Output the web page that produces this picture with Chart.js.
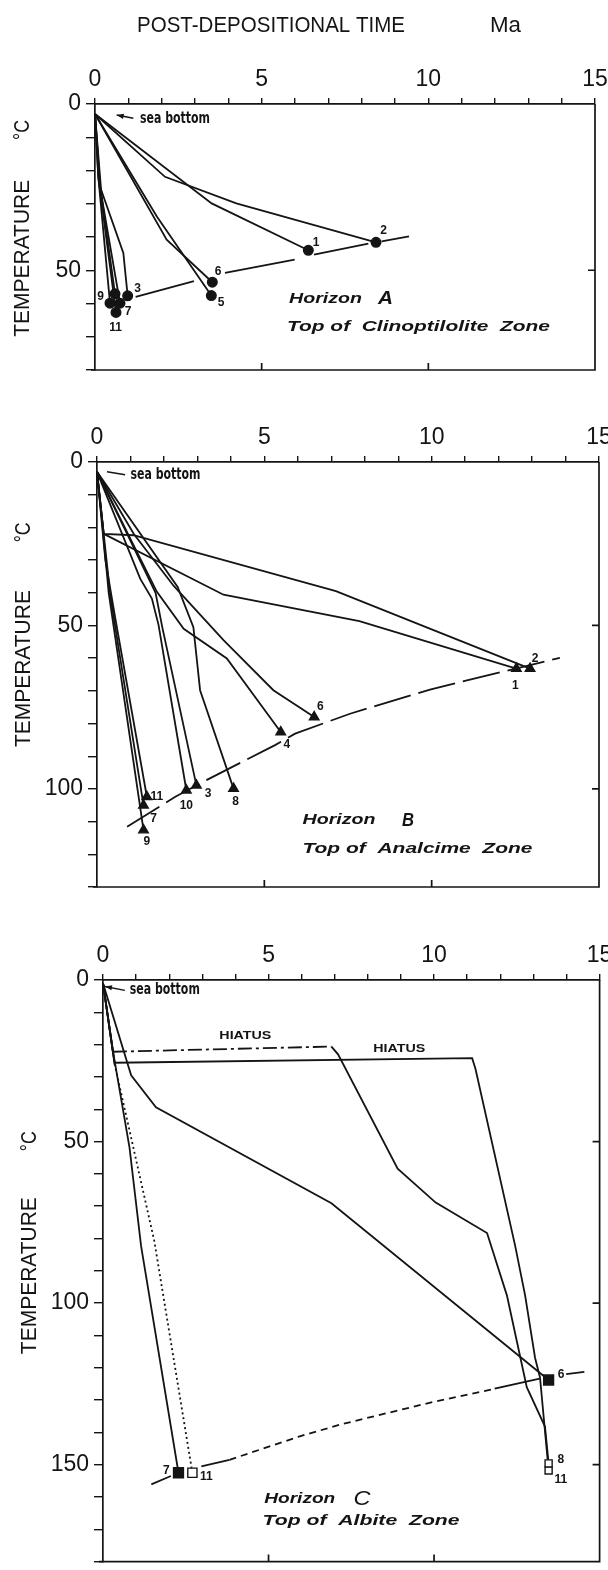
<!DOCTYPE html>
<html>
<head>
<meta charset="utf-8">
<script src="https://cdn.jsdelivr.net/npm/chart.js@4.4.1/dist/chart.umd.min.js"></script>
<style>
  body { margin: 0; background: #fff; width: 608px; height: 1570px; position: relative; overflow: hidden; }
  canvas { position: absolute; left: 0; }
</style>
</head>
<body>
<canvas id="chartA" width="608" height="380" style="top:0"></canvas>
<canvas id="chartB" width="608" height="495" style="top:400px"></canvas>
<canvas id="chartC" width="608" height="670" style="top:900px"></canvas>
<script>
// ---- data: [time Ma, temperature °C] along each well's burial path ----
// Horizon A (top of clinoptilolite zone)
const A_well1 = [[0,3],[3.5,29.9],[6.4,44]];
const A_well2 = [[0,3],[2.1,21.9],[4.24,29.9],[8.43,41.6]];
const A_well3 = [[0,3],[0.15,24.8],[0.85,44.8],[0.98,57.7]];
const A_well5 = [[0,3],[1.86,33.9],[3.49,57.6]];
const A_well6 = [[0,3],[2.15,40.8],[3.52,53.6]];
const A_well7 = [[0,3],[0.15,25],[0.75,59.9]];
const A_well9 = [[0,3],[0.1,22],[0.45,59.9]];
const A_well11 = [[0,3],[0.1,22],[0.63,62.7]];
const A_wellX = [[0,3],[0.2,28],[0.6,57.1]];
const A_horizon = [[1.22,58],[2.97,53.3],[3.9,50.8],[5.99,46.8],[6.57,45.3],[8.2,42],[8.6,41.3],[9.42,39.8]];

// Horizon B (top of analcime zone)
const B_well1 = [[0,3],[0.2,22],[3.78,40.6],[7.84,48.7],[12.53,63.2]];
const B_well2 = [[0,3],[0.2,22],[1.09,22.4],[7.14,39.5],[10.0,51.2],[12.94,63.2]];
const B_well3 = [[0,3],[0.9,22],[1.75,40],[1.95,50.5],[2.97,98.9]];
const B_well4 = [[0,3],[1.79,39.7],[2.59,51],[3.88,60.1],[5.49,82.6]];
const B_well6 = [[0,3],[1.1,22],[2.3,38],[3.78,54.5],[5.27,69.8],[6.49,78]];
const B_well7 = [[0,3],[0.2,22],[0.4,41],[1.39,105]];
const B_well8 = [[0,3],[2.41,38.2],[2.88,50.5],[3.08,69.8],[4.08,99.9]];
const B_well9 = [[0,3],[0.15,18],[0.35,40],[1.39,112.6]];
const B_well10 = [[0,3],[1.29,35.7],[1.64,41.8],[1.84,49.9],[2.67,100.4]];
const B_well11 = [[0,3],[0.25,30],[0.55,48],[1.49,102.4]];
const B_horizon = [[0.9,111.6],[2.34,102.4],[3.27,97.3],[5.32,86.6],[5.92,83.1],[7.56,77],[9.95,69.6],[12.18,64],[13.83,59.9]];

// Horizon C (top of albite zone)
const C_well6 = [[0,1],[0.85,29.5],[1.6,39.4],[6.9,69.1],[13.46,123.8]];
const C_well7 = [[0,1],[0.3,22],[0.8,51.8],[1.15,82.3],[2.28,152.5]];
const C_well11a = [[0,1],[0.35,26],[1.55,80.8],[2.7,152.5]];
const C_well8 = [[0,1],[0.3,22.2],[6.9,20.6],[7.1,23],[8.9,58.4],[10.05,68.9],[11.6,78.3],[12.2,97.6],[12.8,126],[13.35,138.2],[13.46,149.6]];
const C_well11b = [[0,1],[0.35,25.6],[11.15,24.2],[11.25,27.5],[12.45,82.3],[12.75,97.6],[13.05,116.9],[13.2,123],[13.46,151.8]];
const C_horizon = [[1.46,156.1],[2.05,153.5],[2.97,150.5],[3.82,148.5],[5.92,141.3],[7.2,137.5],[9.8,131],[11.83,126.5],[13.19,123.4],[13.99,122],[14.54,121.3]];

// tick labels
const timeLabels = [0, 5, 10, 15];
const tempLabels = [0, 50, 100, 150];

// well numbers: [text, time, temp]
const A_labels = [['1',6.63,41.6],['2',8.66,38],['3',1.28,55.6],['5',3.78,59.8],['6',3.69,50.3],['7',0.99,62.4],['9',0.17,58],['11',0.62,67.2]];
const B_labels = [['1',12.5,68.3],['2',13.09,60.1],['3',3.32,101.4],['4',5.67,86.4],['6',6.67,74.9],['7',1.69,109],['8',4.14,104],['9',1.49,116],['10',2.67,105],['11',1.79,102.4]];
const C_labels = [['7',1.91,151.8],['11',3.12,153.6],['6',13.84,122.2],['8',13.83,148.5],['11',13.83,154.8]];

// ---- drawing ----
const INK = '#141414';
const SANS = '"Liberation Sans", Arial, sans-serif';
const NARROW = '"DejaVu Sans Condensed", "Liberation Sans Narrow", "Liberation Sans", sans-serif';
const LW = 1.8;

const MARK = {
  dot:    { style: 'circle',   r: 4.8, fill: INK },
  tri:    { style: 'triangle', r: 5.5, fill: INK },
  sq:     { style: 'rect',     r: 7,   fill: INK },
  openSq: { style: 'rect',     r: 6.5, fill: '#fff' },
  openSm: { style: 'rect',     r: 5,   fill: '#fff' }
};

function fitText(ctx, text, x, y, w, font, align) {
  ctx.save();
  ctx.font = font;
  ctx.textBaseline = 'middle';
  ctx.textAlign = 'left';
  const m = ctx.measureText(text).width;
  ctx.translate(x, y);
  ctx.scale(w / m, 1);
  ctx.fillText(text, align === 'center' ? -m / 2 : 0, 0);
  ctx.restore();
}

function fitTextUp(ctx, text, x, y, w, font) {
  ctx.save();
  ctx.font = font;
  ctx.textBaseline = 'middle';
  ctx.textAlign = 'left';
  const m = ctx.measureText(text).width;
  ctx.translate(x, y);
  ctx.rotate(-Math.PI / 2);
  ctx.scale(w / m, 1);
  ctx.fillText(text, -m / 2, 0);
  ctx.restore();
}

function wellSet(w) {
  const mk = w.mark ? MARK[w.mark] : null;
  const n = w.path.length;
  return {
    data: w.path.map(p => ({ x: p[0], y: p[1] })),
    showLine: true,
    borderColor: INK,
    borderWidth: LW,
    tension: 0,
    pointStyle: mk ? mk.style : 'circle',
    pointBackgroundColor: mk ? mk.fill : INK,
    pointBorderColor: INK,
    pointBorderWidth: 1.4,
    pointRadius: ctx => (mk && ctx.dataIndex === n - 1) ? mk.r : 0,
    pointHoverRadius: 0,
    segment: w.seg ? { borderDash: ctx => w.seg(ctx.p0DataIndex) } : undefined
  };
}

function curveSet(c) {
  return {
    data: c.path.map(p => ({ x: p[0], y: p[1] })),
    showLine: true,
    borderColor: INK,
    borderWidth: LW,
    tension: 0,
    pointRadius: 0,
    pointHoverRadius: 0,
    borderDash: c.dash || [],
    segment: c.gaps ? { borderColor: ctx => c.gaps.includes(ctx.p0DataIndex) ? 'rgba(0,0,0,0)' : INK,
                        borderDash: ctx => (c.dashed && c.dashed.includes(ctx.p0DataIndex)) ? [7, 5] : [] } : undefined
  };
}

function makeDecor(P) {
  return {
    id: 'decor' + P.id,
    afterDraw(chart) {
      const { ctx, chartArea: ca } = chart;
      const xs = chart.scales.x, ys = chart.scales.y;
      const px = t => xs.getPixelForValue(t);
      const py = T => ys.getPixelForValue(T);
      ctx.save();
      ctx.strokeStyle = INK;
      ctx.fillStyle = INK;
      ctx.lineWidth = 1.7;
      // right and bottom frame with inward ticks
      ctx.beginPath();
      ctx.moveTo(ca.right, ca.top);
      ctx.lineTo(ca.right, ca.bottom);
      ctx.lineTo(ca.left - 4, ca.bottom);
      P.rightTicks.forEach(v => { ctx.moveTo(ca.right, py(v)); ctx.lineTo(ca.right - 7, py(v)); });
      [5, 10].forEach(v => { ctx.moveTo(px(v), ca.bottom); ctx.lineTo(px(v), ca.bottom - 7); });
      ctx.stroke();

      // sea bottom pointer
      const s = P.sea;
      const x0 = px(s.tail[0]), y0 = py(s.tail[1]), x1 = px(s.tip[0]), y1 = py(s.tip[1]);
      ctx.lineWidth = 1.4;
      ctx.beginPath();
      ctx.moveTo(x0, y0);
      ctx.lineTo(x1, y1);
      ctx.stroke();
      if (s.head) {
        const a = Math.atan2(y1 - y0, x1 - x0);
        ctx.beginPath();
        ctx.moveTo(x1, y1);
        ctx.lineTo(x1 - 7 * Math.cos(a) + 2.6 * Math.sin(a), y1 - 7 * Math.sin(a) - 2.6 * Math.cos(a));
        ctx.lineTo(x1 - 7 * Math.cos(a) - 2.6 * Math.sin(a), y1 - 7 * Math.sin(a) + 2.6 * Math.cos(a));
        ctx.closePath();
        ctx.fill();
      }
      fitText(ctx, 'sea bottom', px(s.text[0]), py(s.text[1]), 70, 'bold 16px ' + NARROW);

      // horizon notes
      P.notes.forEach(n => fitText(ctx, n.text, px(n.at[0]), py(n.at[1]), n.w, n.font, n.align));

      // well numbers
      ctx.font = 'bold 12px ' + SANS;
      ctx.textAlign = 'center';
      ctx.textBaseline = 'middle';
      P.labels.forEach(([txt, t, T]) => ctx.fillText(txt, px(t), py(T)));

      // y axis title
      fitTextUp(ctx, 'TEMPERATURE', P.yTitle.x, py(P.yTitle.at[0]), 157, '22px ' + SANS);
      fitTextUp(ctx, '°C', P.yTitle.x, py(P.yTitle.at[1]), 20, '22px ' + SANS);

      if (P.title) {
        fitText(ctx, 'POST-DEPOSITIONAL TIME', 137, 26, 268, '22px ' + SANS);
        fitText(ctx, 'Ma', 490, 26, 31, '22px ' + SANS);
      }
      ctx.restore();
    }
  };
}

function buildChart(P) {
  const datasets = P.wells.map(wellSet).concat(P.curves.map(curveSet));
  return new Chart(document.getElementById(P.id), {
    type: 'scatter',
    data: { datasets },
    options: {
      responsive: false,
      animation: false,
      events: [],
      clip: false,
      layout: { padding: { left: 0, top: 0, right: P.padRight, bottom: P.padBottom } },
      plugins: { legend: { display: false }, tooltip: { enabled: false } },
      scales: {
        x: {
          type: 'linear', position: 'top', min: 0, max: 15,
          ticks: {
            stepSize: 1, autoSkip: false, maxRotation: 0, padding: 5, color: INK,
            font: { family: SANS, size: 23 },
            callback: v => timeLabels.includes(v) ? String(v) : ''
          },
          grid: { drawOnChartArea: false, tickLength: 6, color: INK, lineWidth: 1.4 },
          border: { color: INK, width: 1.7 },
          afterFit: sc => { sc.height = P.padTop; sc.paddingLeft = 0; sc.paddingRight = 0; }
        },
        y: {
          type: 'linear', position: 'left', reverse: true, min: 0, max: P.yMax,
          ticks: {
            stepSize: 10, autoSkip: false, padding: 5, color: INK,
            font: { family: SANS, size: 23 },
            callback: v => tempLabels.includes(v) ? String(v) : ''
          },
          grid: { drawOnChartArea: false, tickLength: 9, color: INK, lineWidth: 1.4 },
          border: { color: INK, width: 1.7 },
          afterFit: sc => { sc.width = P.padLeft; sc.paddingTop = 0; sc.paddingBottom = 0; }
        }
      }
    },
    plugins: [makeDecor(P)]
  });
}

const ITAL = 'italic bold 15px ' + SANS;

buildChart({
  id: 'chartA', title: true, yMax: 80, padTop: 104, padLeft: 95, padRight: 13, padBottom: 10,
  rightTicks: [50],
  wells: [
    { path: A_well1, mark: 'dot' }, { path: A_well2, mark: 'dot' }, { path: A_well3, mark: 'dot' },
    { path: A_well5, mark: 'dot' }, { path: A_well6, mark: 'dot' }, { path: A_well7, mark: 'dot' },
    { path: A_well9, mark: 'dot' }, { path: A_well11, mark: 'dot' }, { path: A_wellX, mark: 'dot' }
  ],
  curves: [{ path: A_horizon, gaps: [1, 3, 5] }],
  labels: A_labels,
  sea: { tip: [0.65, 3.3], tail: [1.15, 4.3], text: [1.35, 4.5], head: true },
  notes: [
    { text: 'Horizon', at: [5.82, 58.6], w: 73, font: ITAL },
    { text: 'A', at: [8.49, 58.6], w: 15, font: 'italic bold 19px ' + SANS },
    { text: 'Top of  Clinoptilolite  Zone', at: [5.76, 66.9], w: 263, font: ITAL }
  ],
  yTitle: { x: 23, at: [46.4, 7.8] }
});

buildChart({
  id: 'chartB', yMax: 130, padTop: 62, padLeft: 97, padRight: 9, padBottom: 8,
  rightTicks: [50, 100],
  wells: [
    { path: B_well1, mark: 'tri' }, { path: B_well2, mark: 'tri' }, { path: B_well3, mark: 'tri' },
    { path: B_well4, mark: 'tri' }, { path: B_well6, mark: 'tri' }, { path: B_well7, mark: 'tri' },
    { path: B_well8, mark: 'tri' }, { path: B_well9, mark: 'tri' }, { path: B_well10, mark: 'tri' },
    { path: B_well11, mark: 'tri' }
  ],
  curves: [{ path: B_horizon, dash: [38, 8] }],
  labels: B_labels,
  sea: { tip: [0.3, 3.0], tail: [0.84, 3.9], text: [1.0, 3.85], head: false },
  notes: [
    { text: 'Horizon', at: [6.14, 109.6], w: 73, font: ITAL },
    { text: 'B', at: [9.11, 109.6], w: 12, font: 'italic bold 19px ' + SANS },
    { text: 'Top of  Analcime  Zone', at: [6.14, 118.2], w: 230, font: ITAL }
  ],
  yTitle: { x: 24, at: [63.2, 21.5] }
});

buildChart({
  id: 'chartC', yMax: 180, padTop: 80, padLeft: 103, padRight: 6, padBottom: 2,
  rightTicks: [50, 100, 150],
  wells: [
    { path: C_well7, mark: 'sq' },
    { path: C_well6, mark: 'sq' },
    { path: C_well11a, mark: 'openSq', seg: i => i >= 1 ? [2, 3] : [] },
    { path: C_well8, mark: 'openSm', seg: i => i === 1 ? [14, 4, 3, 4] : [] },
    { path: C_well11b, mark: 'openSm' }
  ],
  curves: [{ path: C_horizon, gaps: [1, 8], dashed: [3, 4, 5, 6] }],
  labels: C_labels,
  sea: { tip: [0.06, 2.0], tail: [0.66, 3.2], text: [0.81, 3.2], head: true },
  notes: [
    { text: 'HIATUS', at: [4.3, 17.4], w: 52, font: 'bold 11.5px ' + SANS, align: 'center' },
    { text: 'HIATUS', at: [8.95, 21.2], w: 52, font: 'bold 11.5px ' + SANS, align: 'center' },
    { text: 'Horizon', at: [4.87, 160.7], w: 71, font: ITAL },
    { text: 'C', at: [7.57, 160.7], w: 17, font: 'italic 21px ' + SANS },
    { text: 'Top of  Albite  Zone', at: [4.82, 167.3], w: 197, font: ITAL }
  ],
  yTitle: { x: 30, at: [91.5, 49.9] }
});
</script>
</body>
</html>
